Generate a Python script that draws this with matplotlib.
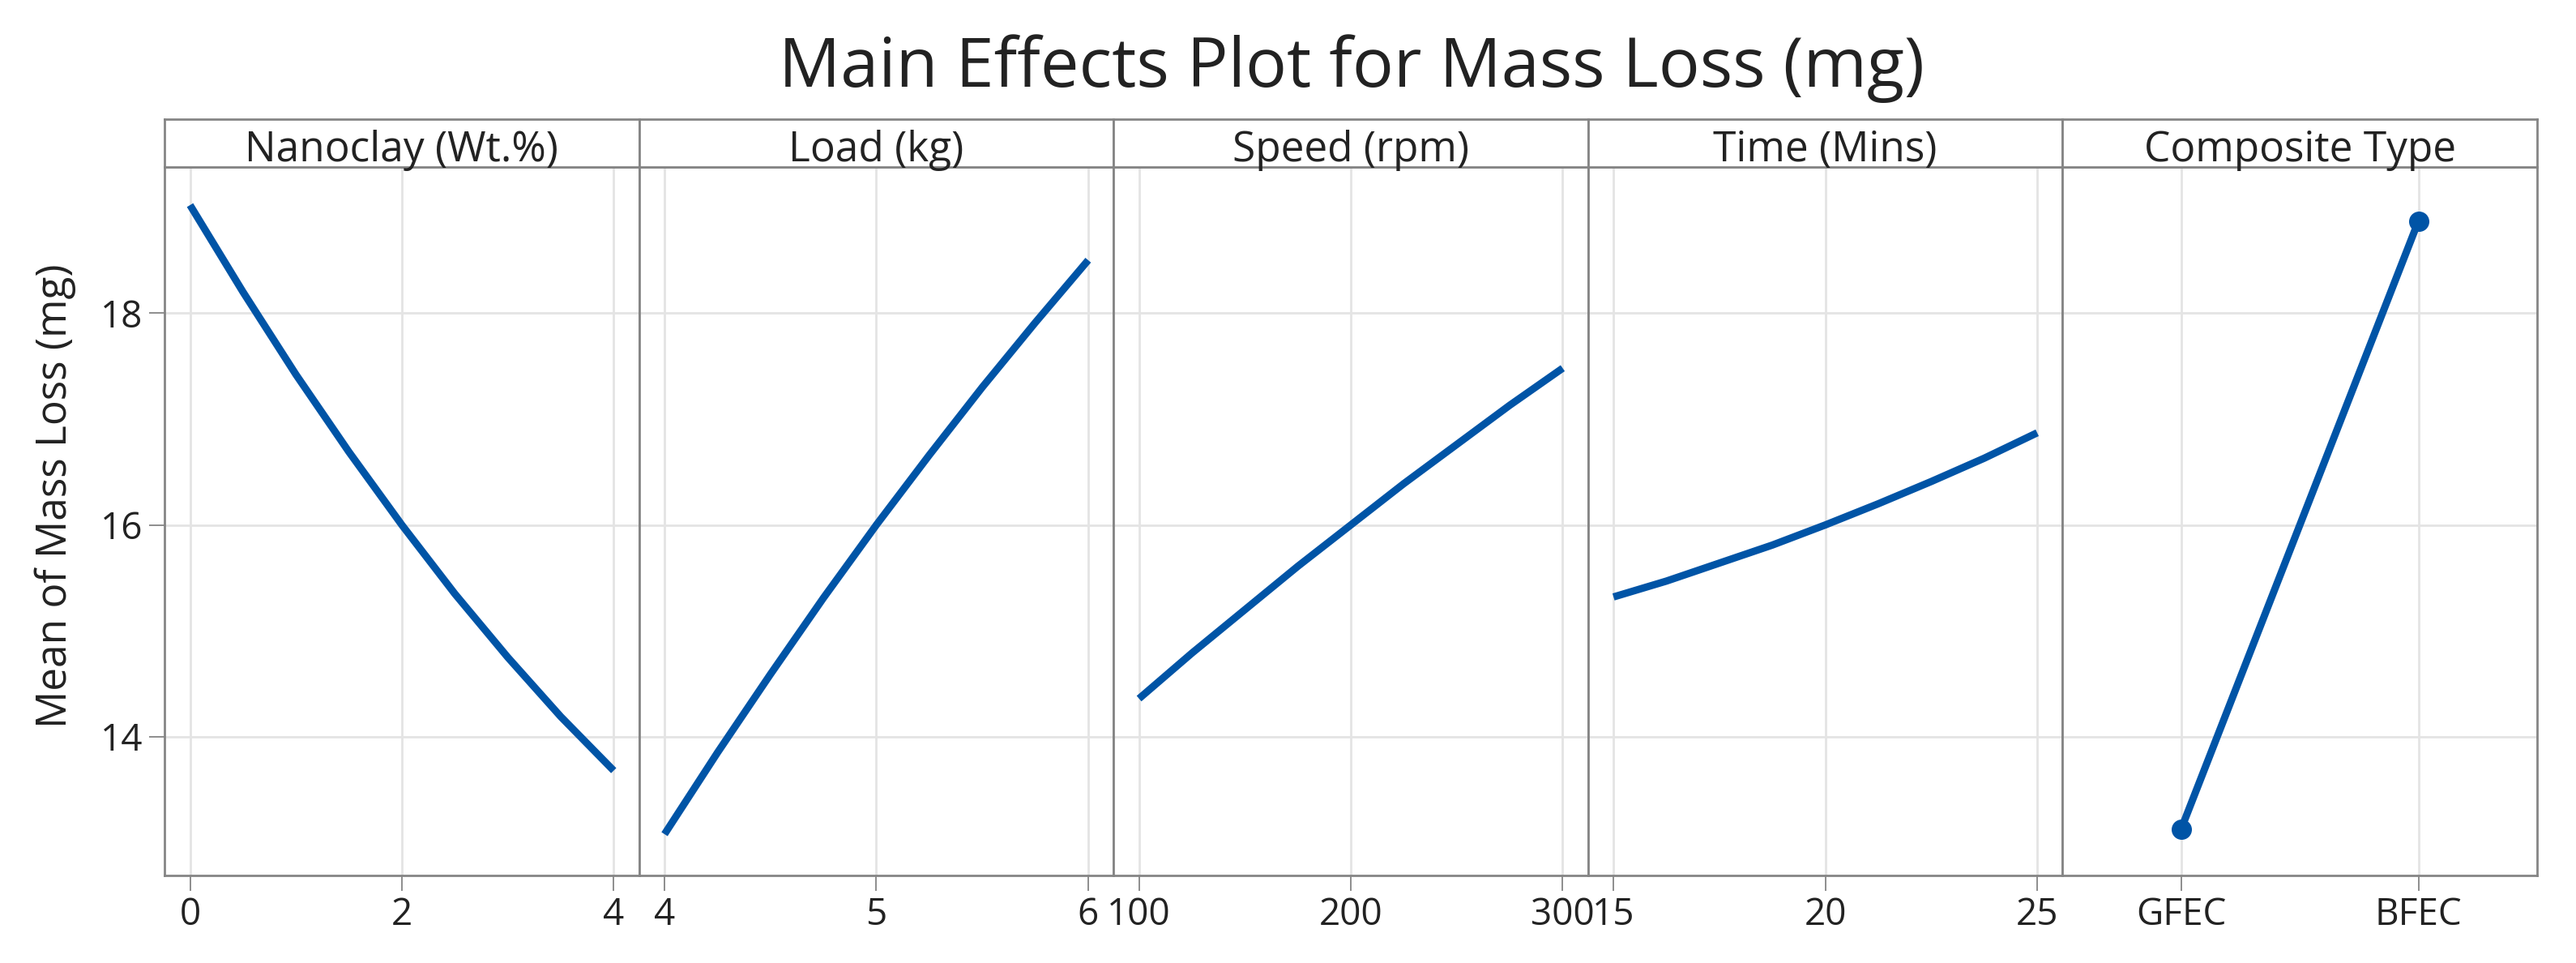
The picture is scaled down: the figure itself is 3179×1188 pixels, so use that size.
import numpy as np
import matplotlib
matplotlib.use('Agg')
import matplotlib.pyplot as plt

plt.rcParams['font.family'] = ['Open Sans', 'DejaVu Sans']

# values (fitted means)
factor_names = ['Nanoclay (Wt.%)', 'Load (kg)', 'Speed (rpm)', 'Time (Mins)', 'Composite Type']

nanoclay_x = [0, 0.5, 1, 1.5, 2, 2.5, 3, 3.5, 4]
nanoclay_y = [19.02, 18.20, 17.42, 16.69, 16.00, 15.35, 14.75, 14.19, 13.68]

load_x = [4, 4.25, 4.5, 4.75, 5, 5.25, 5.5, 5.75, 6]
load_y = [13.08, 13.85, 14.59, 15.31, 16.00, 16.66, 17.30, 17.91, 18.50]

speed_x = [100, 125, 150, 175, 200, 225, 250, 275, 300]
speed_y = [14.36, 14.79, 15.20, 15.61, 16.00, 16.39, 16.76, 17.13, 17.48]

time_x = [15, 16.25, 17.5, 18.75, 20, 21.25, 22.5, 23.75, 25]
time_y = [15.32, 15.47, 15.64, 15.81, 16.00, 16.20, 16.41, 16.63, 16.87]

composite_types = ['GFEC', 'BFEC']
composite_y = [13.13, 18.87]

xticks = [[0, 2, 4], [4, 5, 6], [100, 200, 300], [15, 20, 25]]
yticks = [14, 16, 18]

series = [(nanoclay_x, nanoclay_y), (load_x, load_y),
          (speed_x, speed_y), (time_x, time_y)]

blue = '#0054A6'
frame = '#858585'
gridc = '#e4e4e4'
txt = '#222222'

fig = plt.figure(figsize=(31.79, 11.88), dpi=100)

left0 = 0.0639
w = 0.1842
bottom = 0.0909
h = 0.7357
strip_h = 0.0497

for i, name in enumerate(factor_names):
    ax = fig.add_axes([left0 + i * w, bottom, w, h])
    if i < 4:
        x, y = series[i]
        ax.plot(x, y, color=blue, lw=6.5, solid_capstyle='butt',
                solid_joinstyle='round', zorder=3)
        r = x[-1] - x[0]
        ax.set_xlim(x[0] - 0.06 * r, x[-1] + 0.06 * r)
        ax.set_xticks(xticks[i])
    else:
        pos = np.arange(len(composite_types))
        ax.plot(pos, composite_y, color=blue, lw=6.5, marker='o', ms=17, zorder=3)
        ax.set_xlim(-0.5, 1.5)
        ax.set_xticks(pos)
        ax.set_xticklabels(composite_types)
    ax.set_ylim(12.69, 19.38)
    ax.set_yticks(yticks)
    ax.grid(True, color=gridc, lw=2.0)
    ax.set_axisbelow(True)
    for s in ax.spines.values():
        s.set_color(frame)
        s.set_linewidth(2.0)
    ax.tick_params(axis='both', direction='out', length=14, width=1.3,
                   color=frame, labelsize=33, labelcolor=txt, pad=5)
    if i > 0:
        ax.tick_params(axis='y', left=False, labelleft=False)

    # strip with factor name
    sax = fig.add_axes([left0 + i * w, bottom + h, w, strip_h])
    sax.set_xticks([])
    sax.set_yticks([])
    for s in sax.spines.values():
        s.set_color(frame)
        s.set_linewidth(2.0)
    sax.text(0.5, 0.12, name, ha='center', va='baseline', fontsize=37,
             color=txt, transform=sax.transAxes)

fig.text(68 / 3179, 1 - 612 / 1188, 'Mean of Mass Loss (mg)', rotation=90,
         ha='center', va='center', fontsize=37, color=txt)
fig.text(0.5247, 0.91, 'Main Effects Plot for Mass Loss (mg)', ha='center',
         va='baseline', fontsize=61, color=txt)

fig.savefig('out.png', dpi=100)
